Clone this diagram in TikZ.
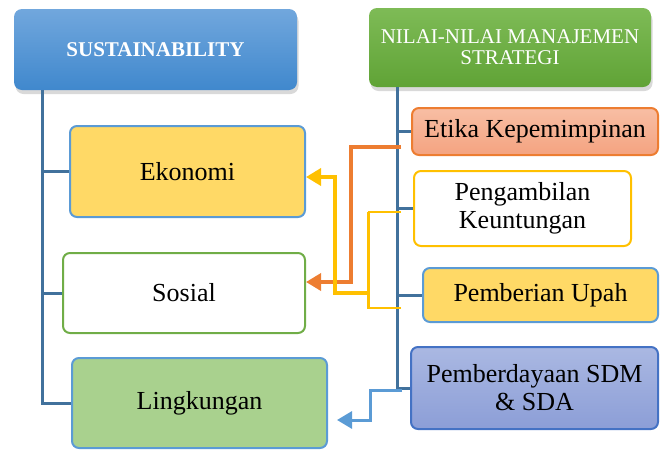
\documentclass[tikz,border=0pt]{standalone}
\usepackage{fontspec}
\setmainfont{Liberation Serif}
\usetikzlibrary{arrows.meta,shadows}
\definecolor{trunkc}{HTML}{41719C}
\definecolor{accblue}{HTML}{5B9BD5}
\definecolor{accgreen}{HTML}{70AD47}
\definecolor{accorange}{HTML}{ED7D31}
\definecolor{accgold}{HTML}{FFC000}
\definecolor{lightgold}{HTML}{FFD966}
\definecolor{lightgreen}{HTML}{A9D18E}
\definecolor{darkblue}{HTML}{4472C4}
\begin{document}
\begin{tikzpicture}[x=1pt,y=-1pt,
  box/.style={rounded corners=7pt, line width=2pt, inner sep=0pt, align=center,
    font=\fontsize{26}{28}\selectfont},
  head/.style={rounded corners=8pt, inner sep=0pt, align=center, text=white,
    drop shadow={opacity=0.3, shadow xshift=1.5pt, shadow yshift=-4pt}},
  trunk/.style={draw=trunkc, line width=3pt},
  tip/.style={-{Triangle[length=15pt,width=17pt]}},
  oarrow/.style={draw=accorange, line width=3.5pt, tip},
  yarrow/.style={draw=accgold, line width=3.5pt, tip},
  yline/.style={draw=accgold, line width=1.8pt},
  barrow/.style={draw=accblue, line width=3pt, tip}
]
\useasboundingbox (0,0) rectangle (660,450);

% headers
\node[head, top color={rgb,255:red,113;green,167;blue,221}, bottom color={rgb,255:red,64;green,136;blue,205},
  minimum width=283pt, minimum height=81pt, font=\bfseries\fontsize{21}{24}\selectfont]
  (sus) at (155.5,49.5) {SUSTAINABILITY};
\node[head, top color={rgb,255:red,126;green,187;blue,86}, bottom color={rgb,255:red,96;green,163;blue,54},
  minimum width=282pt, minimum height=79pt, font=\fontsize{21}{21}\selectfont]
  (nil) at (510,47.5) {NILAI-NILAI MANAJEMEN\\STRATEGI};

% left boxes
\node[box, draw=accblue, fill=lightgold, minimum width=235pt, minimum height=91pt] (eko) at (187.5,171.5) {Ekonomi};
\node[box, draw=accgreen, fill=white, minimum width=242pt, minimum height=80pt] (sos) at (184,293) {Sosial};
\node[box, draw=accblue, fill=lightgreen, minimum width=255pt, minimum height=90pt] (lin) at (199.5,403) {Lingkungan};

% right boxes
\node[box, draw=accorange, top color={rgb,255:red,248;green,190;blue,164}, bottom color={rgb,255:red,244;green,163;blue,128},
  minimum width=246pt, minimum height=47pt] (eti) at (535,131.5) {Etika Kepemimpinan};
\node[box, draw=accgold, fill=white, minimum width=217pt, minimum height=75pt] (pen) at (522.5,208.5) {Pengambilan\\Keuntungan};
\node[box, draw=accblue, fill=lightgold, minimum width=235pt, minimum height=54pt] (upa) at (540.5,295) {Pemberian Upah};
\node[box, draw=darkblue, top color={rgb,255:red,170;green,184;blue,226}, bottom color={rgb,255:red,140;green,158;blue,215},
  minimum width=247pt, minimum height=82pt] (pem) at (534.5,388) {Pemberdayaan SDM\\\& SDA};

% trunks
\coordinate (lt) at (42,90);
\draw[trunk] (lt) |- (lin.west);
\draw[trunk] (lt |- eko.west) -- (eko.west);
\draw[trunk] (lt |- sos.west) -- (sos.west);
\coordinate (rt) at (397,87);
\draw[trunk] (rt) |- (pem.west);
\draw[trunk] (rt |- eti.west) -- (eti.west);
\draw[trunk] (rt |- pen.west) -- (pen.west);
\draw[trunk] (rt |- upa.west) -- (upa.west);

% orange connector
\coordinate (oS) at (401,147);
\coordinate (oT) at (sos.east |- 0,282);
\draw[oarrow] (oS) -- (351,147) -- (351,282) -- (oT);

% yellow connector
\coordinate (yA) at (401,212);
\coordinate (yB) at (401,308);
\draw[yline] (yA) -- (368,212);
\draw[yline, line width=1.3pt] (yB) -- (368,308);
\draw[accgold, line width=3pt] (368,212) -- (368,309);
\coordinate (yT) at (eko.east |- 0,177);
\draw[yarrow] (369.5,293) -- (335,293) -- (335,177) -- (yT);

% blue connector
\coordinate (bS) at (402,390);
\coordinate (bT) at (337,420);
\draw[barrow] (bS) -- (370,390) -- (370,420) -- (bT);
\end{tikzpicture}
\end{document}
